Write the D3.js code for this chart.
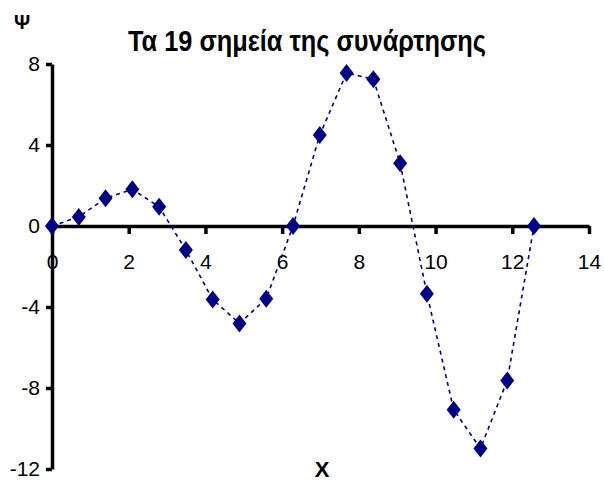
<!DOCTYPE html>
<html>
<head>
<meta charset="utf-8">
<script src="https://cdn.jsdelivr.net/npm/d3@7"></script>
<style>
  body { margin: 0; background: #fff; }
  svg { display: block; font-family: "Liberation Sans", Arial, sans-serif; }
</style>
</head>
<body>
<svg id="chart" width="604" height="484"></svg>
<script>
// data
const xValues = [0, 0.698, 1.396, 2.094, 2.793, 3.491, 4.189, 4.887, 5.585, 6.283,
  6.981, 7.679, 8.378, 9.076, 9.774, 10.472, 11.170, 11.868, 12.566];
const yValues = [0, 0.45, 1.37, 1.81, 0.95, -1.19, -3.63, -4.81, -3.59, 0,
  4.49, 7.56, 7.25, 3.1, -3.34, -9.07, -10.99, -7.63, 0];
const xTicks = [0, 2, 4, 6, 8, 10, 12, 14];
const yTicks = [8, 4, 0, -4, -8, -12];
const title = 'Τα 19 σημεία της συνάρτησης';

const navy = '#000080';
const svg = d3.select('#chart');

const x = d3.scaleLinear().domain([0, 14]).range([52, 589]);
const y = d3.scaleLinear().domain([-12, 8]).range([469, 64]);

const points = xValues.map((v, i) => ({ x: v, y: yValues[i] }));
const plainFormat = d => String(d); // keeps ASCII hyphen for negatives

// axes
const xAxis = svg.append('g')
  .attr('transform', `translate(0,${y(0)})`)
  .call(d3.axisBottom(x).tickValues(xTicks).tickFormat(plainFormat)
    .tickSize(8).tickPadding(20).tickSizeOuter(0));
const yAxis = svg.append('g')
  .attr('transform', `translate(${x(0)},0)`)
  .call(d3.axisLeft(y).tickValues(yTicks).tickFormat(plainFormat)
    .tickSize(6).tickPadding(6).tickSizeOuter(0));

[xAxis, yAxis].forEach(ax => {
  ax.select('.domain').attr('stroke', '#000').attr('stroke-width', 3.5);
  ax.selectAll('.tick line').attr('stroke', '#000').attr('stroke-width', 3.5);
  ax.selectAll('text')
    .attr('fill', '#000')
    .style('font-size', '21px')
    .style('font-family', '"Liberation Sans", Arial, sans-serif');
});
xAxis.selectAll('text').attr('dy', '0.71em');

// dashed connecting line
const line = d3.line().x(d => x(d.x)).y(d => y(d.y));
svg.append('path')
  .datum(points)
  .attr('fill', 'none')
  .attr('stroke', navy)
  .attr('stroke-width', 1.6)
  .attr('stroke-dasharray', '4,4')
  .attr('d', line);

// diamond markers
svg.selectAll('path.pt')
  .data(points)
  .join('path')
  .attr('class', 'pt')
  .attr('transform', d => `translate(${x(d.x)},${y(d.y)})`)
  .attr('d', 'M0,-9L7,0L0,9L-7,0Z')
  .attr('fill', navy);

// title and axis names
svg.append('text')
  .attr('x', 307).attr('y', 51)
  .attr('text-anchor', 'middle')
  .attr('textLength', 358)
  .attr('lengthAdjust', 'spacingAndGlyphs')
  .style('font-size', '30px')
  .style('font-weight', 'bold')
  .text(title);

svg.append('text')
  .attr('x', 22).attr('y', 29)
  .attr('text-anchor', 'middle')
  .style('font-size', '20px')
  .style('font-weight', 'bold')
  .text('Ψ');

svg.append('text')
  .attr('x', 322).attr('y', 477)
  .attr('text-anchor', 'middle')
  .style('font-size', '22px')
  .style('font-weight', 'bold')
  .text('X');
</script>
</body>
</html>
